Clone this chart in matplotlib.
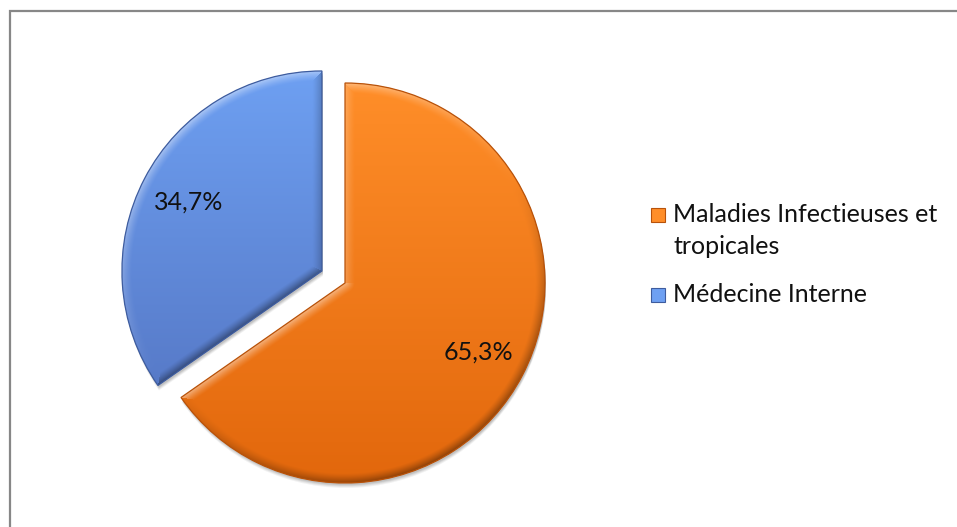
import matplotlib
matplotlib.use("Agg")
import matplotlib.pyplot as plt
import numpy as np
from matplotlib.colors import to_rgb
from matplotlib.patches import Rectangle, Wedge

# services and their share of patients
labels = ["Maladies Infectieuses et\ntropicales", "Médecine Interne"]
shares = [65.3, 34.7]
explode = [0.0, 0.13]          # as a fraction of the radius
top_colors = ["#FF8E29", "#6EA0F2"]
bottom_colors = ["#E2670C", "#5170BD"]
edge_colors = ["#B8520A", "#3E5C9E"]

W, H = 957, 527
RADIUS = 200
FONT = "Lato"
LIGHT = np.array([-0.5, 0.85]) / np.hypot(-0.5, 0.85)
BEVEL = 10.0


def shaded_image(w, top, bottom):
    """Vertical gradient with a bevel rim lit from the upper left."""
    cx, cy = w.center
    r = w.r
    x0, x1, y0, y1 = cx - r - 2, cx + r + 2, cy - r - 2, cy + r + 2
    X, Y = np.meshgrid(np.arange(x0, x1, 1.0) + 0.5, np.arange(y0, y1, 1.0) + 0.5)
    vx, vy = X - cx, Y - cy
    d = np.hypot(vx, vy) + 1e-9

    # arc: distance inward and outward normal
    dist = r - d
    nx, ny = vx / d, vy / d

    # straight edges; theta1 faces clockwise, theta2 counter-clockwise
    for ang, sign in ((w.theta1, -1), (w.theta2, 1)):
        t = np.radians(ang)
        ux, uy = np.cos(t), np.sin(t)
        proj = np.clip(vx * ux + vy * uy, 0, r)
        de = np.hypot(vx - proj * ux, vy - proj * uy)
        closer = de < dist
        dist = np.where(closer, de, dist)
        nx = np.where(closer, -sign * uy, nx)
        ny = np.where(closer, sign * ux, ny)

    fall = np.clip(1 - dist / BEVEL, 0, 1) ** 1.3
    shade = (nx * LIGHT[0] + ny * LIGHT[1]) * fall

    tt = ((Y - (cy - r)) / (2 * r)).clip(0, 1)[..., None]
    top, bottom = np.array(to_rgb(top)), np.array(to_rgb(bottom))
    img = bottom + (top - bottom) * tt
    s = shade[..., None]
    img = np.where(s > 0, img + (1 - img) * s * 0.45, img * (1 + s * 0.4))
    return img.clip(0, 1), (x0, x1, y0, y1)


fig = plt.figure(figsize=(W / 100, H / 100), dpi=100)
ax = fig.add_axes([0, 0, 1, 1])

# pie() takes the explode offset in data units
wedges, texts, autotexts = ax.pie(
    shares,
    explode=[e * RADIUS for e in explode],
    startangle=90,
    counterclock=False,
    radius=RADIUS,
    center=(345, H - 283),
    colors=top_colors,
    autopct=lambda p: f"{p:.1f}%".replace(".", ","),
    pctdistance=0.75,
    wedgeprops=dict(linewidth=0),
    textprops=dict(fontsize=18, family=FONT, color="#111111"),
)

for i, w in enumerate(wedges):
    # soft drop shadow
    for k, a in ((5, 0.05), (4, 0.06), (3, 0.07), (2, 0.08)):
        ax.add_patch(Wedge((w.center[0] + 1, w.center[1] - k), w.r, w.theta1, w.theta2,
                           facecolor="black", alpha=a, linewidth=0, zorder=0.5))
    img, ext = shaded_image(w, top_colors[i], bottom_colors[i])
    im = ax.imshow(img, extent=ext, origin="lower", interpolation="bilinear", zorder=1.5)
    im.set_clip_path(w)
    ax.add_patch(Wedge(w.center, w.r, w.theta1, w.theta2, facecolor="none",
                       edgecolor=edge_colors[i], linewidth=0.9, zorder=1.6))

for t in autotexts:
    t.set_zorder(3)

# legend drawn by hand so the marker sits on the first line of the label
legend_y = [222, 302]
for i, lab in enumerate(labels):
    by = H - legend_y[i]
    ax.add_patch(Rectangle((651, by), 14, 14, facecolor=top_colors[i],
                           edgecolor=edge_colors[i], linewidth=0.8, zorder=3))
    for j, line in enumerate(lab.split("\n")):
        ax.text(673, by - j * 32, line, fontsize=18, family=FONT,
                color="#111111", va="baseline", ha="left", zorder=3)

# chart-area border (top and left edges visible)
ax.plot([9.5, 9.5, W + 5], [-5, H - 10.5, H - 10.5], color="#878787",
        linewidth=1.6, solid_joinstyle="miter", zorder=4)

ax.set_xlim(0, W)
ax.set_ylim(0, H)
ax.set_aspect("auto")
ax.axis("off")
fig.savefig("out.png", dpi=100, facecolor="white")
